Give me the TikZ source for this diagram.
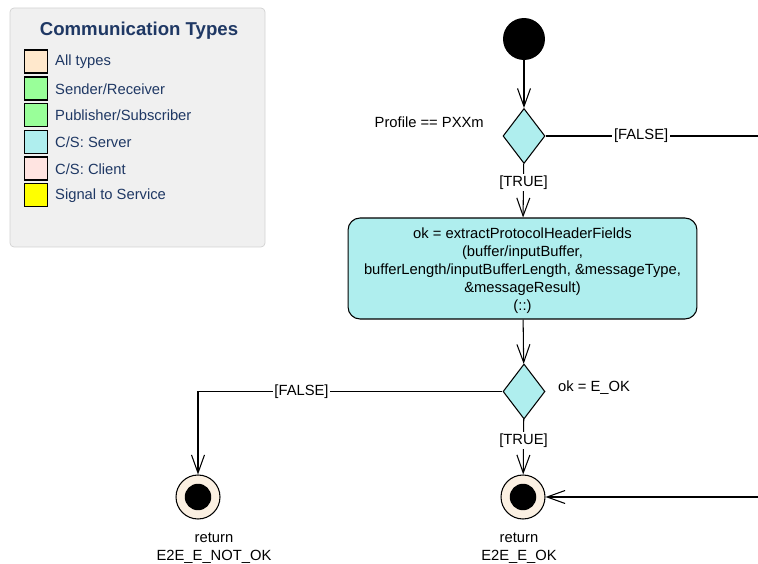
\documentclass[tikz,border=0pt]{standalone}
\usepackage{fontspec}
\setmainfont{Liberation Sans}
\usetikzlibrary{shapes,arrows.meta,positioning,calc}

\definecolor{serverblue}{HTML}{AFEEEE}
\definecolor{alltypes}{HTML}{FFE8CC}
\definecolor{srgreen}{HTML}{99FF99}
\definecolor{clientpink}{HTML}{FFE4E1}
\definecolor{sigyellow}{HTML}{FFFF00}
\definecolor{endcream}{HTML}{FBF0E2}
\definecolor{legendblue}{HTML}{1F3864}
\definecolor{legendgray}{HTML}{F0F0F0}
\definecolor{legendframe}{HTML}{D2D2D2}

\begin{document}
\begin{tikzpicture}[
    x=0.02cm, y=-0.02cm,
    font=\fontsize{8.4}{10.2}\selectfont,
    % Define styles for the activity elements
    action/.style={
        rectangle,
        rounded corners=0.24cm,
        draw,
        fill=serverblue,
        align=center,
        minimum width=6.98cm,
        minimum height=2.02cm,
        line width=0.6pt
    },
    decision/.style={
        diamond,
        draw,
        fill=serverblue,
        inner sep=0pt,
        minimum width=0.84cm,
        minimum height=1.1cm,
        line width=0.6pt
    },
    startnode/.style={
        circle,
        fill=black,
        minimum size=0.84cm,
        inner sep=0pt
    },
    endnode/.style={
        circle,
        draw,
        fill=endcream,
        minimum size=0.88cm,
        inner sep=0pt,
        line width=0.6pt,
        path picture={\fill[black] (path picture bounding box.center) circle (0.265cm);}
    },
    guard/.style={
        fill=white,
        inner sep=1pt
    },
    line/.style={
        draw,
        -{Straight Barb[length=0.36cm, width=0.26cm]},
        line width=0.6pt
    },
    swatch/.style={
        rectangle,
        draw,
        line width=0.8pt,
        minimum size=0.46cm,
        inner sep=0pt
    },
    legendtext/.style={
        anchor=west,
        text=legendblue
    }
]
\useasboundingbox (0,0) rectangle (758,564);

% Legend
\draw[legendframe, fill=legendgray, rounded corners=0.08cm] (10,8) rectangle (265,247);
\node[text=legendblue, font=\fontsize{10.6}{12}\selectfont\bfseries] (legtitle) at (139,31) {Communication Types};
\node[swatch, fill=alltypes] (swall) at (36,61.5) {};
\node[legendtext] (txtall) at (49,62) {All types};
\node[swatch, fill=srgreen] (swsr) at (36,88.5) {};
\node[legendtext] (txtsr) at (49,89) {Sender/Receiver};
\node[swatch, fill=srgreen] (swps) at (36,115) {};
\node[legendtext] (txtps) at (49,115.5) {Publisher/Subscriber};
\node[swatch, fill=serverblue] (swserver) at (36,142) {};
\node[legendtext] (txtserver) at (49,142.5) {C/S: Server};
\node[swatch, fill=clientpink] (swclient) at (36,168.5) {};
\node[legendtext] (txtclient) at (49,169) {C/S: Client};
\node[swatch, fill=sigyellow] (swsig) at (36,195) {};
\node[legendtext] (txtsig) at (49,195.5) {Signal to Service};

% Place the activity nodes
\node[startnode] (start) at (524,39) {};
\node[decision] (profile) at (524,136) {};
\node[anchor=east] (profiletxt) at (490,122) {Profile == PXXm};
\node[action] (extract) at (522.5,268.5) {};
\node[align=center] (extracttxt) at (522.5,271) {ok = extractProtocolHeaderFields\\(buffer/inputBuffer,\\bufferLength/inputBufferLength, \&messageType,\\\&messageResult)\\(::)};
\node[decision] (okcheck) at (524,391.5) {};
\node[anchor=west] (oktxt) at (552,388) {ok = E\_OK};
\node[endnode] (endnotok) at (198,497) {};
\node[endnode] (endok) at (523,497) {};
\node[align=center] (retnotok) at (214,548) {return\\E2E\_E\_NOT\_OK};
\node[align=center] (retok) at (519,548) {return\\E2E\_E\_OK};
\coordinate (falseout) at (758,136);
\coordinate (loopin) at (758,497);

% Draw the connections
\draw[line] (start) -- (profile);
\draw[line] (profile) -- node[guard, pos=0.35] {[TRUE]} (extract);
\draw[line width=0.6pt] (profile.east) -- node[guard, pos=0.45] {[FALSE]} (falseout);
\draw[line] (extract) -- (okcheck);
\draw[line] (okcheck) -- node[guard, pos=0.38] {[TRUE]} (endok);
\draw[line] (okcheck.west) -| node[guard, pos=0.33] {[FALSE]} (endnotok);
\draw[line] (loopin) -- (endok);

\end{tikzpicture}
\end{document}
